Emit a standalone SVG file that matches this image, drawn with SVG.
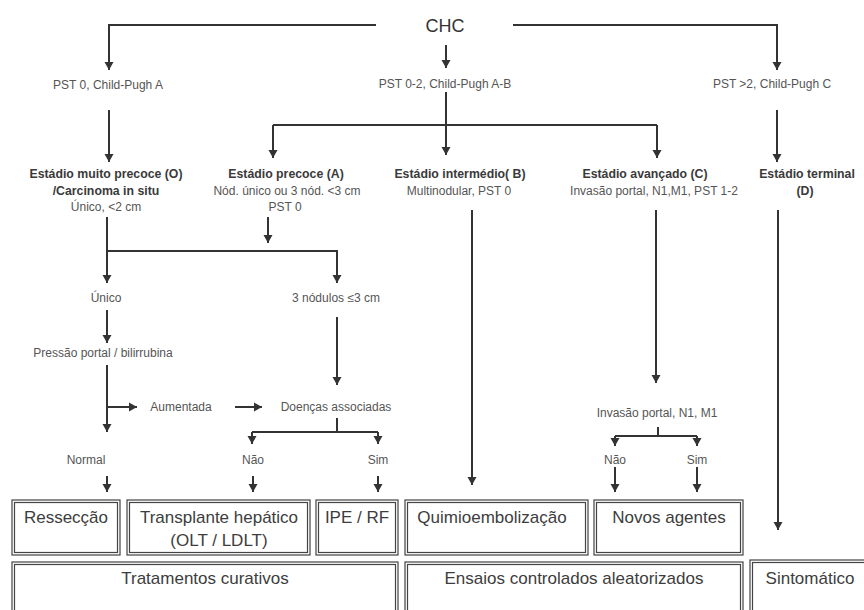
<svg xmlns="http://www.w3.org/2000/svg" width="864" height="610" viewBox="0 0 864 610">
<style>
text{font-family:"Liberation Sans",Arial,sans-serif;fill:#555;text-anchor:middle}
.s{font-size:12px}
.b{font-size:12.3px;font-weight:bold;fill:#3a3a3a}
.t{font-size:18px;fill:#333}
.bx{font-size:17px;fill:#3d3d3d}
.c path{fill:none;stroke:#333;stroke-width:2}
.box rect{fill:#fff;stroke:#444;stroke-width:1.2}
</style>
<defs>
<marker id="a" markerUnits="userSpaceOnUse" markerWidth="12" markerHeight="12" refX="10" refY="6" orient="auto">
<path d="M2,1.5 L10,6 L2,10.5 Z" fill="#333"/>
</marker>
</defs>
<rect width="864" height="610" fill="#fff"/>
<g class="c" id="connectors">
<path d="M376,25 H109 V70" marker-end="url(#a)"/>
<path d="M513,25 H777 V70" marker-end="url(#a)"/>
<path d="M446,45 V68" marker-end="url(#a)"/>
<path d="M109,110 V162" marker-end="url(#a)"/>
<path d="M446,92 V155" marker-end="url(#a)"/>
<path d="M273,125 H657"/>
<path d="M273,125 V158" marker-end="url(#a)"/>
<path d="M657,125 V158" marker-end="url(#a)"/>
<path d="M777,110 V162" marker-end="url(#a)"/>
<path d="M107,217 V283" marker-end="url(#a)"/>
<path d="M107,251 H337 V283" marker-end="url(#a)"/>
<path d="M268,217 V243" marker-end="url(#a)"/>
<path d="M107,310 V343" marker-end="url(#a)"/>
<path d="M107,365 V432" marker-end="url(#a)"/>
<path d="M107,407 H137" marker-end="url(#a)"/>
<path d="M235,407 H262" marker-end="url(#a)"/>
<path d="M337,317 V385" marker-end="url(#a)"/>
<path d="M337,418 V432"/>
<path d="M252,432 H378"/>
<path d="M252,432 V444" marker-end="url(#a)"/>
<path d="M378,432 V444" marker-end="url(#a)"/>
<path d="M107,476 V492" marker-end="url(#a)"/>
<path d="M253,476 V492" marker-end="url(#a)"/>
<path d="M378,476 V492" marker-end="url(#a)"/>
<path d="M472,210 V485" marker-end="url(#a)"/>
<path d="M656,210 V383" marker-end="url(#a)"/>
<path d="M778,210 V530" marker-end="url(#a)"/>
<path d="M658,427 V436"/>
<path d="M615,436 H697"/>
<path d="M615,436 V446" marker-end="url(#a)"/>
<path d="M697,436 V446" marker-end="url(#a)"/>
<path d="M615,467 V492" marker-end="url(#a)"/>
<path d="M697,467 V492" marker-end="url(#a)"/>
</g>
<g id="chc"><text class="t" x="445" y="32">CHC</text></g>
<g id="pstA"><text class="s" x="108" y="89">PST 0, Child-Pugh A</text></g>
<g id="pstAB"><text class="s" x="445" y="88">PST 0-2, Child-Pugh A-B</text></g>
<g id="pstC"><text class="s" x="772" y="88">PST &gt;2, Child-Pugh C</text></g>
<g id="stage0">
<text class="b" x="106" y="177.5">Estádio muito precoce (O)</text>
<text class="b" x="106" y="194.5">/Carcinoma in situ</text>
<text class="s" x="106" y="210.5">Único, &lt;2 cm</text>
</g>
<g id="stageA">
<text class="b" x="286" y="177.5">Estádio precoce (A)</text>
<text class="s" x="287" y="194.5">Nód. único ou 3 nód. &lt;3 cm</text>
<text class="s" x="285" y="210.5">PST 0</text>
</g>
<g id="stageB">
<text class="b" x="460" y="177.5">Estádio intermédio( B)</text>
<text class="s" x="459" y="194.5">Multinodular, PST 0</text>
</g>
<g id="stageC">
<text class="b" x="645" y="177.5">Estádio avançado (C)</text>
<text class="s" x="654" y="194.5">Invasão portal, N1,M1, PST 1-2</text>
</g>
<g id="stageD">
<text class="b" x="807" y="177.5">Estádio terminal</text>
<text class="b" x="805" y="194.5">(D)</text>
</g>
<g id="unico"><text class="s" x="106" y="302">Único</text></g>
<g id="tresnod"><text class="s" x="336" y="302">3 nódulos ≤3 cm</text></g>
<g id="pressao"><text class="s" x="103" y="357">Pressão portal / bilirrubina</text></g>
<g id="aumentada"><text class="s" x="181" y="411">Aumentada</text></g>
<g id="doencas"><text class="s" x="336" y="411">Doenças associadas</text></g>
<g id="normal"><text class="s" x="86" y="464">Normal</text></g>
<g id="nao1"><text class="s" x="253" y="464">Não</text></g>
<g id="sim1"><text class="s" x="378" y="464">Sim</text></g>
<g id="invasao"><text class="s" x="657" y="417">Invasão portal, N1, M1</text></g>
<g id="nao2"><text class="s" x="615" y="464">Não</text></g>
<g id="sim2"><text class="s" x="697" y="464">Sim</text></g>
<g id="resseccao" class="box">
<rect x="12" y="500" width="108" height="55"/><rect x="14.5" y="502.5" width="103" height="50"/>
<text class="bx" x="66" y="523">Ressecção</text>
</g>
<g id="transplante" class="box">
<rect x="127" y="500" width="183" height="55"/><rect x="129.5" y="502.5" width="178" height="50"/>
<text class="bx" x="219" y="523">Transplante hepático</text>
<text class="bx" x="219" y="546">(OLT / LDLT)</text>
</g>
<g id="ipe" class="box">
<rect x="316" y="500" width="82" height="55"/><rect x="318.5" y="502.5" width="77" height="50"/>
<text class="bx" x="357" y="523">IPE / RF</text>
</g>
<g id="quimio" class="box">
<rect x="405" y="500" width="183" height="55"/><rect x="407.5" y="502.5" width="178" height="50"/>
<text class="bx" x="492" y="523">Quimioembolização</text>
</g>
<g id="novos" class="box">
<rect x="594" y="500" width="149" height="55"/><rect x="596.5" y="502.5" width="144" height="50"/>
<text class="bx" x="669" y="523">Novos agentes</text>
</g>
<g id="curativos" class="box">
<rect x="12" y="562" width="386" height="60"/><rect x="14.5" y="564.5" width="381" height="55"/>
<text class="bx" x="205" y="584">Tratamentos curativos</text>
</g>
<g id="ensaios" class="box">
<rect x="405" y="562" width="338" height="60"/><rect x="407.5" y="564.5" width="333" height="55"/>
<text class="bx" x="574" y="584">Ensaios controlados aleatorizados</text>
</g>
<g id="sintomatico" class="box">
<rect x="750" y="560" width="120" height="60"/><rect x="752.5" y="562.5" width="115" height="55"/>
<text class="bx" x="810" y="584">Sintomático</text>
</g>
</svg>
